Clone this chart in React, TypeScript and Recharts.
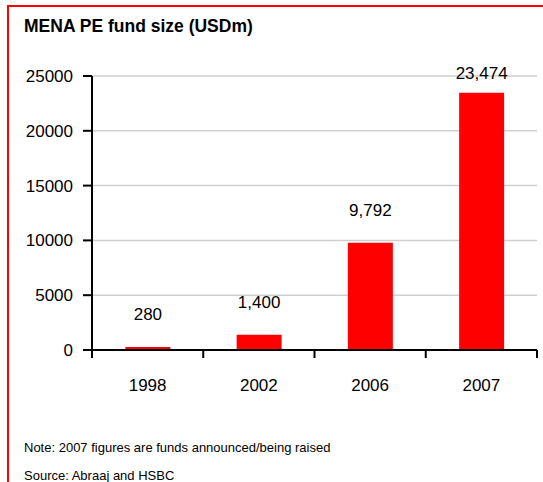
import { Bar, BarChart, CartesianGrid, LabelList, XAxis, YAxis } from "recharts";

const years = ["1998", "2002", "2006", "2007"];
const fundSize = [280, 1400, 9792, 23474];
const yTicks = [0, 5000, 10000, 15000, 20000, 25000];

const data = years.map((year, i) => ({ year, size: fundSize[i] }));

const FONT = '"Liberation Sans", Arial, Helvetica, sans-serif';

const renderValue = (props: any) => {
  const { x, y, width, value } = props;
  // the top label is pulled down so it stays inside the plot like in the source
  const ty = Math.max(y - 32, 73);
  return (
    <text
      x={x + width / 2}
      y={ty}
      textAnchor="middle"
      dominantBaseline="central"
      fontSize={17}
      fontFamily={FONT}
      fill="#000"
    >
      {Number(value).toLocaleString("en-US")}
    </text>
  );
};

// category label plus tick marks on the band edges
const YearTick = (props: any) => {
  const { x, y, payload, index, visibleTicksCount } = props;
  const half = payload.offset || 0;
  const axisY = y - 29;
  const last = index === visibleTicksCount - 1;
  return (
    <g>
      <line x1={x - half} x2={x - half} y1={axisY} y2={axisY + 8} stroke="#000" strokeWidth={2} />
      {last && (
        <line x1={x + half} x2={x + half} y1={axisY} y2={axisY + 8} stroke="#000" strokeWidth={2} />
      )}
      <text
        x={x}
        y={y}
        dy="0.71em"
        textAnchor="middle"
        fontSize={17}
        fontFamily={FONT}
        fill="#000"
      >
        {payload.value}
      </text>
    </g>
  );
};

export default function App() {
  return (
    <div
      style={{
        position: "absolute",
        left: 0,
        top: 0,
        width: 543,
        height: 482,
        background: "#fff",
        fontFamily: FONT,
        overflow: "hidden",
      }}
    >
      <div
        style={{
          position: "absolute",
          left: 7,
          top: 5,
          width: 600,
          height: 600,
          borderTop: "2px solid #ff0000",
          borderLeft: "2px solid #ff0000",
        }}
      />
      <div
        style={{
          position: "absolute",
          left: 24,
          top: 16,
          fontSize: 17.5,
          fontWeight: "bold",
          color: "#000",
          whiteSpace: "nowrap",
        }}
      >
        MENA PE fund size (USDm)
      </div>
      <div style={{ position: "absolute", left: 0, top: 0 }}>
        <BarChart
          width={543}
          height={482}
          data={data}
          margin={{ top: 76, right: 6, left: 0, bottom: 92 }}
          barCategoryGap="30%"
        >
          <CartesianGrid
            vertical={false}
            stroke="#cfcfcf"
            strokeWidth={1.5}
          />
          <XAxis
            dataKey="year"
            height={40}
            tickLine={false}
            tickSize={0}
            tickMargin={29}
            axisLine={{ stroke: "#000", strokeWidth: 2 }}
            tick={<YearTick />}
          />
          <YAxis
            width={92}
            domain={[0, 25000]}
            ticks={yTicks}
            interval={0}
            tickSize={9}
            tickMargin={10}
            axisLine={{ stroke: "#000", strokeWidth: 2 }}
            tickLine={{ stroke: "#000", strokeWidth: 2 }}
            tick={{ fill: "#000", fontSize: 17, fontFamily: FONT }}
          />
          <Bar dataKey="size" fill="#ff0000" isAnimationActive={false}>
            <LabelList dataKey="size" content={renderValue} />
          </Bar>
        </BarChart>
      </div>
      <div
        style={{
          position: "absolute",
          left: 24,
          top: 440,
          fontSize: 13,
          color: "#000",
          whiteSpace: "nowrap",
        }}
      >
        Note: 2007 figures are funds announced/being raised
      </div>
      <div
        style={{
          position: "absolute",
          left: 24,
          top: 468,
          fontSize: 13,
          color: "#000",
          whiteSpace: "nowrap",
        }}
      >
        Source: Abraaj and HSBC
      </div>
    </div>
  );
}
